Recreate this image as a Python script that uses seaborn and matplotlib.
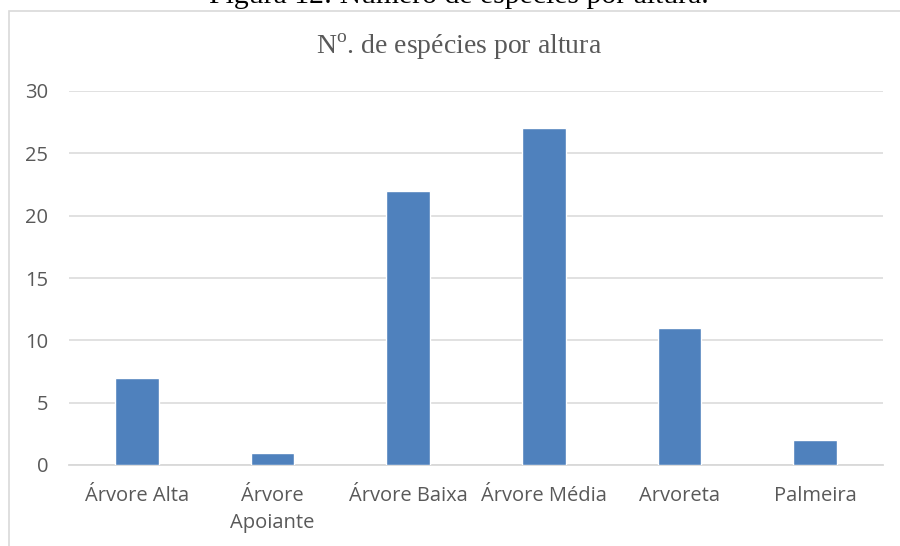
import matplotlib
matplotlib.use("Agg")
import matplotlib.pyplot as plt
import seaborn as sns
import pandas as pd
from matplotlib.patches import Rectangle

# Number of species per height class
categories = ["Árvore Alta", "Árvore\nApoiante", "Árvore Baixa", "Árvore Média", "Arvoreta", "Palmeira"]
species_counts = [7, 1, 22, 27, 11, 2]
y_ticks = [0, 5, 10, 15, 20, 25, 30]

df = pd.DataFrame({"categoria": categories, "especies": species_counts})

sns.set_theme(style="white")
plt.rcParams["font.family"] = ["Open Sans", "DejaVu Sans"]
plt.rcParams["mathtext.fontset"] = "custom"
plt.rcParams["mathtext.rm"] = "Liberation Serif"

fig = plt.figure(figsize=(9, 5.46), dpi=100)
ax = fig.add_axes([69 / 900, 1 - 465 / 546, (883 - 69) / 900, (465 - 91) / 546])

# chart frame
fig.patches.append(Rectangle((9 / 900, -0.1), 1.2, 1 - 10.5 / 546 + 0.1,
                             transform=fig.transFigure, fill=False,
                             edgecolor="#d9d9d9", linewidth=1.2, zorder=0))

sns.barplot(data=df, x="categoria", y="especies", color="#4f81bd",
            saturation=1, width=0.32, ax=ax, zorder=3)

ax.set_ylim(0, 30)
ax.set_xlim(-0.5, len(categories) - 0.5)
ax.set_yticks(y_ticks)
ax.yaxis.grid(True, color="#d9d9d9", linewidth=1.1)
ax.set_axisbelow(True)
for side in ["top", "right", "left"]:
    ax.spines[side].set_visible(False)
ax.spines["bottom"].set_color("#d9d9d9")
ax.spines["bottom"].set_linewidth(1.3)
ax.set_xlabel("")
ax.set_ylabel("")
ax.tick_params(axis="both", length=0, labelsize=14.5, colors="#595959")
ax.tick_params(axis="y", pad=15)
ax.tick_params(axis="x", pad=15)
for lbl in ax.get_xticklabels():
    lbl.set_linespacing(1.5)

# chart title
fig.text(459 / 900, 1 - 54 / 546, r"N$^{\mathrm{o}}$. de espécies por altura",
         ha="center", va="baseline", fontsize=20, color="#595959",
         family="Liberation Serif")

# caption above the chart
fig.text(459 / 900, 1 - 3 / 546, "Figura 12: Número de espécies por altura.",
         ha="center", va="baseline", fontsize=21.4, color="black",
         family="Liberation Serif")

fig.savefig("out.png", dpi=100)
